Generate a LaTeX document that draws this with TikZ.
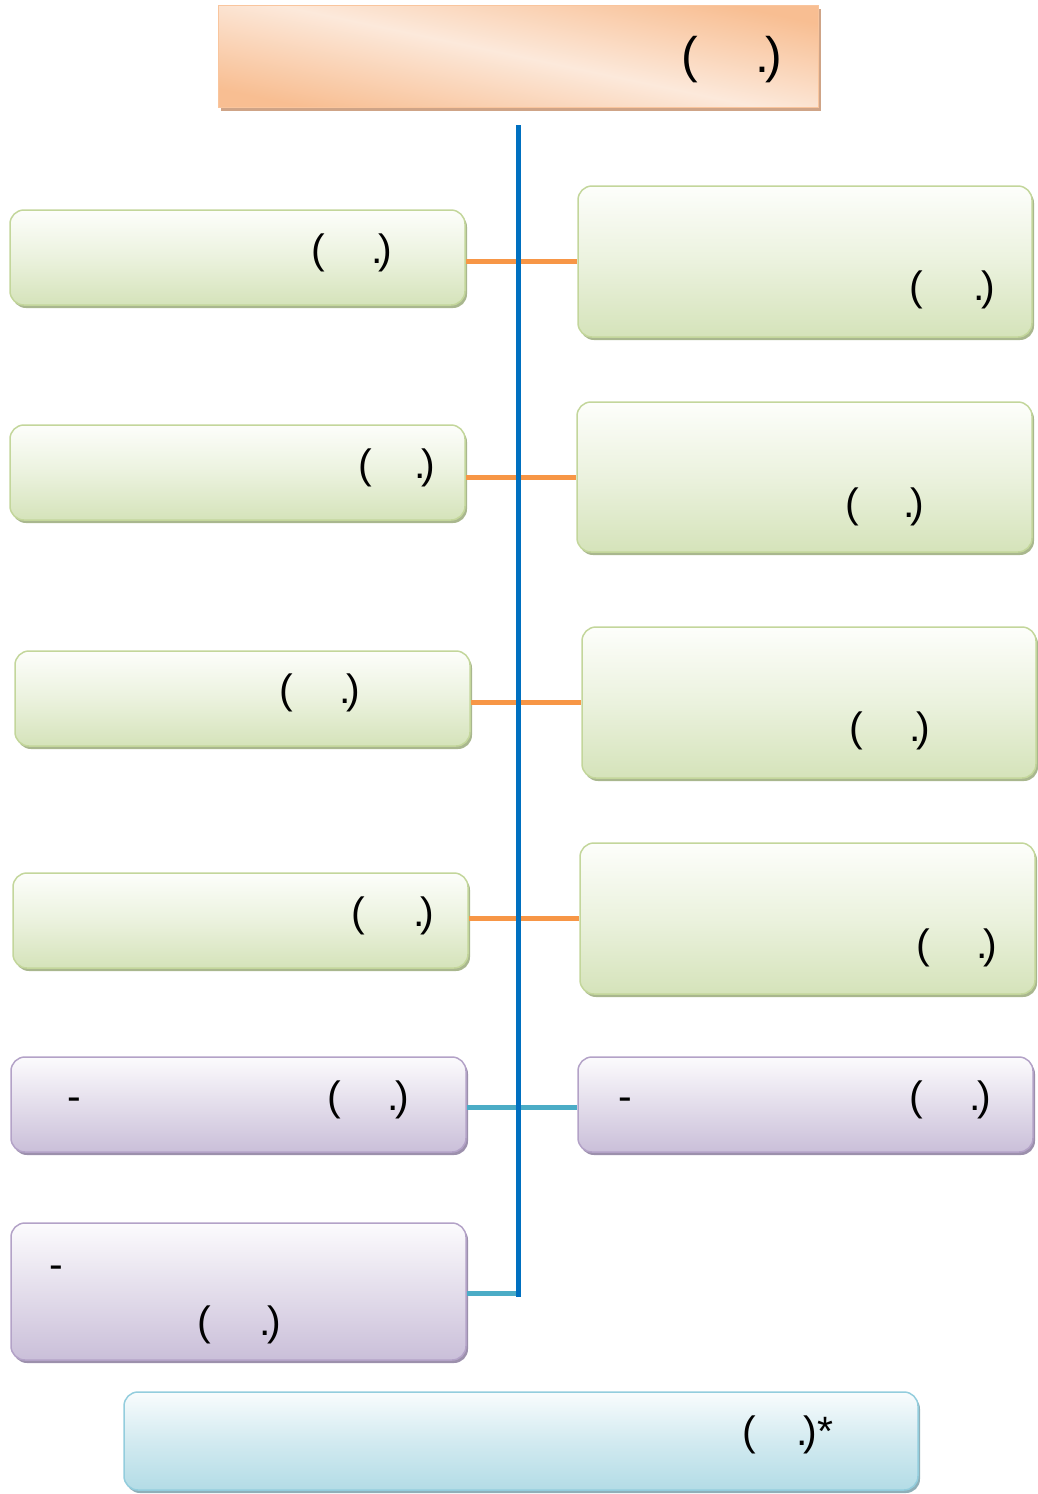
\documentclass[tikz,border=0pt]{standalone}
\usepackage{fontspec}
\setmainfont{Liberation Sans}
\usetikzlibrary{shadows}
\definecolor{gtop}{HTML}{FDFEFB}
\definecolor{gbot}{HTML}{D5E3BA}
\definecolor{gline}{HTML}{C3D69B}
\definecolor{gshad}{HTML}{A9B78E}
\definecolor{ptop}{HTML}{FCFBFD}
\definecolor{pbot}{HTML}{CABFD9}
\definecolor{pline}{HTML}{B3A2C7}
\definecolor{pshad}{HTML}{9C90AC}
\definecolor{btop}{HTML}{F9FCFD}
\definecolor{bbot}{HTML}{B3DCE6}
\definecolor{bline}{HTML}{93CDDD}
\definecolor{bshad}{HTML}{8FAFB8}
\definecolor{oedge}{HTML}{F8BE92}
\definecolor{omid}{HTML}{FCE9DB}
\definecolor{oshad}{HTML}{CFA487}
\definecolor{orangeline}{HTML}{F79646}
\definecolor{tealline}{HTML}{4BACC6}
\definecolor{blueline}{HTML}{0070C0}
\newcommand{\gapped}[1]{(\hspace{#1}.\kern-4pt)}
\tikzset{
  roundbox/.style={rounded corners=14pt, line width=1.5pt, inner sep=0pt},
  greenbox/.style={roundbox, draw=gline, top color=gtop, bottom color=gbot, middle color=gtop!55!gbot,
    drop shadow={shadow xshift=2pt, shadow yshift=-3pt, fill=gshad, opacity=1}},
  purplebox/.style={roundbox, draw=pline, top color=ptop, bottom color=pbot, middle color=ptop!50!pbot,
    drop shadow={shadow xshift=2pt, shadow yshift=-3pt, fill=pshad, opacity=1}},
  bluebox/.style={roundbox, draw=bline, top color=btop, bottom color=bbot, middle color=btop!45!bbot,
    drop shadow={shadow xshift=2pt, shadow yshift=-3pt, fill=bshad, opacity=1}},
  titlebox/.style={line width=1pt, draw=oedge!90!white, inner sep=0pt,
    shading=axis, top color=oedge, bottom color=oedge, middle color=omid, shading angle=-12,
    drop shadow={shadow xshift=3pt, shadow yshift=-4pt, fill=oshad, opacity=1}},
  lbl/.style={anchor=base, font=\fontsize{41}{41}\selectfont, inner sep=0pt},
  tlbl/.style={anchor=base, font=\fontsize{50}{50}\selectfont, inner sep=0pt},
  dashlbl/.style={anchor=base, font=\fontsize{41}{41}\selectfont, inner sep=0pt},
  oline/.style={draw=orangeline, line width=5pt},
  tline/.style={draw=tealline, line width=5pt},
  vline/.style={draw=blueline, line width=5pt},
}
\begin{document}
\begin{tikzpicture}[x=1pt, y=-1pt]
\useasboundingbox (0,0) rectangle (1037,1494);
% title
\node[titlebox, minimum width=600, minimum height=102] (T) at (518,56) {};
\node[tlbl] (Tt) at (732,72) {\gapped{57pt}};
% green boxes
\node[greenbox, minimum width=455, minimum height=95] (L1) at (237.5,257.5) {};
\node[greenbox, minimum width=454, minimum height=151] (R1) at (805,261.5) {};
\node[greenbox, minimum width=455, minimum height=95] (L2) at (237.5,472.5) {};
\node[greenbox, minimum width=455, minimum height=150] (R2) at (804.5,477) {};
\node[greenbox, minimum width=455, minimum height=95] (L3) at (242.5,698.5) {};
\node[greenbox, minimum width=454, minimum height=151] (R3) at (809,702.5) {};
\node[greenbox, minimum width=455, minimum height=95] (L4) at (240.5,920.5) {};
\node[greenbox, minimum width=455, minimum height=151] (R4) at (807.5,918.5) {};
% purple boxes
\node[purplebox, minimum width=455, minimum height=95] (L5) at (238.5,1104.5) {};
\node[purplebox, minimum width=455, minimum height=95] (R5) at (805.5,1104.5) {};
\node[purplebox, minimum width=455, minimum height=137] (L6) at (238.5,1291.5) {};
% bottom box
\node[bluebox, minimum width=794, minimum height=98] (B) at (521,1441) {};
% labels
\node[lbl] (L1t) at (352,263) {\gapped{46pt}};
\node[lbl] (R1t) at (952,300) {\gapped{51pt}};
\node[lbl] (L2t) at (397,478) {\gapped{42pt}};
\node[lbl] (R2t) at (885,517) {\gapped{44pt}};
\node[lbl] (L3t) at (320,703) {\gapped{46pt}};
\node[lbl] (R3t) at (890,741) {\gapped{46pt}};
\node[lbl] (L4t) at (393,926) {\gapped{48pt}};
\node[lbl] (R4t) at (957,958) {\gapped{46pt}};
\node[dashlbl] (L5d) at (74,1110) {-};
\node[lbl] (L5t) at (368,1110) {\gapped{47pt}};
\node[dashlbl] (R5d) at (625,1110) {-};
\node[lbl] (R5t) at (950,1110) {\gapped{47pt}};
\node[dashlbl] (L6d) at (56,1278) {-};
\node[lbl] (L6t) at (239,1335) {\gapped{49pt}};
\node[lbl] (Bt) at (788,1445) {\gapped{40pt}*};
% connectors
\coordinate (vtop) at (518,125);
\coordinate (vbot) at (518,1297);
\draw[oline] (R1.west -| L1.east) -- (R1.west);
\draw[oline] (R2.west -| L2.east) -- (R2.west);
\draw[oline] (R3.west -| L3.east) -- (R3.west);
\draw[oline] (R4.west -| L4.east) -- (R4.west);
\draw[tline] ([yshift=-2.5pt]L5.east) -- ([yshift=-2.5pt]R5.west);
\draw[tline] ([yshift=-1.5pt]L6.east) -- ([yshift=-1.5pt]L6.east -| vbot);
\draw[vline] (vtop) -- (vbot);
\end{tikzpicture}
\end{document}
